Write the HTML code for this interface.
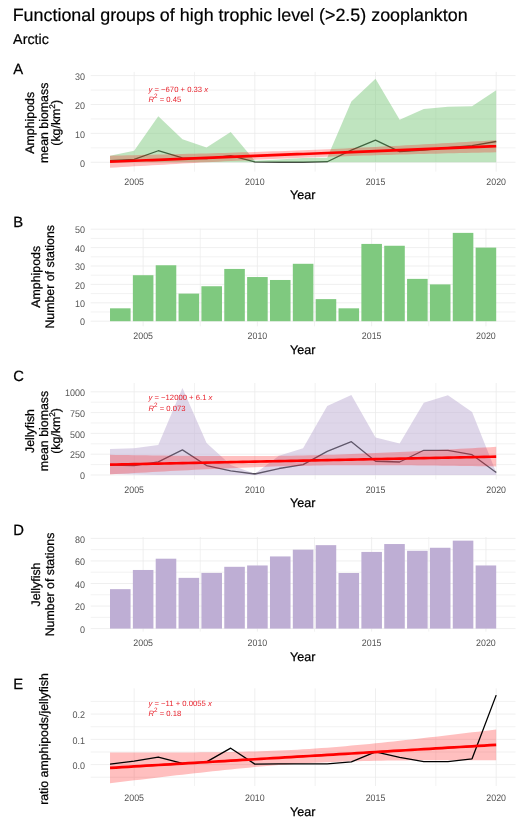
<!DOCTYPE html>
<html><head><meta charset="utf-8"><style>
html,body{margin:0;padding:0;background:#fff;}
svg{display:block;will-change:transform;text-rendering:geometricPrecision;font-family:"Liberation Sans", sans-serif;}
</style></head><body>
<svg width="529" height="831" viewBox="0 0 529 831">
<rect width="529" height="831" fill="#fff"/>
<text x="12.7" y="21.0" font-size="17.9" fill="#000" stroke="#000" stroke-width="0.2">Functional groups of high trophic level (&gt;2.5) zooplankton</text>
<text x="13.1" y="43.7" font-size="14.3" fill="#000" stroke="#000" stroke-width="0.2">Arctic</text>
<text x="13.2" y="73.8" font-size="14.8" fill="#000" stroke="#000" stroke-width="0.25">A</text>
<line x1="90.7" x2="515.5" y1="147.85" y2="147.85" stroke="#EDEDED" stroke-width="0.7"/>
<line x1="90.7" x2="515.5" y1="118.95" y2="118.95" stroke="#EDEDED" stroke-width="0.7"/>
<line x1="90.7" x2="515.5" y1="90.05" y2="90.05" stroke="#EDEDED" stroke-width="0.7"/>
<line x1="194.49" x2="194.49" y1="71.9" y2="171.6" stroke="#EDEDED" stroke-width="0.7"/>
<line x1="315.17" x2="315.17" y1="71.9" y2="171.6" stroke="#EDEDED" stroke-width="0.7"/>
<line x1="435.85" x2="435.85" y1="71.9" y2="171.6" stroke="#EDEDED" stroke-width="0.7"/>
<line x1="90.7" x2="515.5" y1="162.30" y2="162.30" stroke="#EBEBEB" stroke-width="0.8"/>
<line x1="90.7" x2="515.5" y1="133.40" y2="133.40" stroke="#EBEBEB" stroke-width="0.8"/>
<line x1="90.7" x2="515.5" y1="104.50" y2="104.50" stroke="#EBEBEB" stroke-width="0.8"/>
<line x1="90.7" x2="515.5" y1="75.60" y2="75.60" stroke="#EBEBEB" stroke-width="0.8"/>
<line x1="134.15" x2="134.15" y1="71.9" y2="171.6" stroke="#EBEBEB" stroke-width="0.8"/>
<line x1="254.83" x2="254.83" y1="71.9" y2="171.6" stroke="#EBEBEB" stroke-width="0.8"/>
<line x1="375.51" x2="375.51" y1="71.9" y2="171.6" stroke="#EBEBEB" stroke-width="0.8"/>
<line x1="496.19" x2="496.19" y1="71.9" y2="171.6" stroke="#EBEBEB" stroke-width="0.8"/>
<text transform="translate(85.0,166.50) scale(1,1.07)" text-anchor="end" font-size="9.0" fill="#555555">0</text>
<text transform="translate(85.0,137.60) scale(1,1.07)" text-anchor="end" font-size="9.0" fill="#555555">10</text>
<text transform="translate(85.0,108.70) scale(1,1.07)" text-anchor="end" font-size="9.0" fill="#555555">20</text>
<text transform="translate(85.0,79.80) scale(1,1.07)" text-anchor="end" font-size="9.0" fill="#555555">30</text>
<text transform="translate(134.15,184.90) scale(1,1.07)" text-anchor="middle" font-size="8.85" fill="#555555">2005</text>
<text transform="translate(254.83,184.90) scale(1,1.07)" text-anchor="middle" font-size="8.85" fill="#555555">2010</text>
<text transform="translate(375.51,184.90) scale(1,1.07)" text-anchor="middle" font-size="8.85" fill="#555555">2015</text>
<text transform="translate(496.19,184.90) scale(1,1.07)" text-anchor="middle" font-size="8.85" fill="#555555">2020</text>
<text transform="translate(33.80,122.80) rotate(-90)" x="0" y="0" text-anchor="middle" font-size="12.35" fill="#000" stroke="#000" stroke-width="0.25">Amphipods</text>
<text transform="translate(47.80,122.80) rotate(-90)" x="0" y="0" text-anchor="middle" font-size="12.35" fill="#000" stroke="#000" stroke-width="0.25">mean biomass</text>
<text transform="translate(60.00,122.80) rotate(-90)" x="0" y="0" text-anchor="middle" font-size="12.35" fill="#000" stroke="#000" stroke-width="0.25">(kg/km<tspan font-size="8.2" dy="-4.6">2</tspan><tspan dy="4.6">)</tspan></text>
<text x="302.7" y="199.3" text-anchor="middle" font-size="12.5" fill="#000" stroke="#000" stroke-width="0.25">Year</text>
<polyline points="110.01,160.57 134.15,159.41 158.28,150.74 182.42,157.97 206.55,158.54 230.69,155.65 254.83,161.87 278.96,162.16 303.10,162.16 327.24,161.72 351.37,150.16 375.51,140.05 399.65,151.61 423.78,150.16 447.92,147.56 472.05,145.54 496.19,141.49" fill="none" stroke="#000" stroke-width="1.3" stroke-opacity="1.0" stroke-linejoin="round" stroke-linecap="butt"/>
<polygon points="110.01,155.65 134.15,150.74 158.28,116.35 182.42,139.18 206.55,147.56 230.69,131.96 254.83,160.86 278.96,159.41 303.10,157.97 327.24,157.68 351.37,101.61 375.51,78.78 399.65,119.82 423.78,109.12 447.92,106.81 472.05,106.23 496.19,90.34 496.19,162.30 472.05,162.30 447.92,162.30 423.78,162.30 399.65,162.30 375.51,162.30 351.37,162.30 327.24,162.30 303.10,162.30 278.96,162.30 254.83,162.30 230.69,162.30 206.55,162.30 182.42,162.30 158.28,162.30 134.15,162.30 110.01,162.30" fill="#7FC97F" fill-opacity="0.5"/>
<polygon points="110.01,155.65 116.04,155.53 122.08,155.40 128.11,155.27 134.15,155.14 140.18,155.01 146.21,154.87 152.25,154.74 158.28,154.60 164.32,154.46 170.35,154.32 176.38,154.17 182.42,154.02 188.45,153.87 194.49,153.72 200.52,153.56 206.55,153.40 212.59,153.24 218.62,153.07 224.66,152.90 230.69,152.72 236.72,152.54 242.76,152.36 248.79,152.17 254.83,151.97 260.86,151.77 266.90,151.57 272.93,151.36 278.96,151.14 285.00,150.92 291.03,150.69 297.07,150.46 303.10,150.22 309.13,149.97 315.17,149.72 321.20,149.47 327.24,149.20 333.27,148.94 339.30,148.66 345.34,148.38 351.37,148.10 357.41,147.81 363.44,147.51 369.47,147.22 375.51,146.91 381.54,146.60 387.58,146.29 393.61,145.98 399.65,145.66 405.68,145.33 411.71,145.00 417.75,144.67 423.78,144.34 429.82,144.01 435.85,143.67 441.88,143.33 447.92,142.98 453.95,142.64 459.99,142.29 466.02,141.94 472.05,141.59 478.09,141.23 484.12,140.88 490.16,140.52 496.19,140.16 496.19,152.30 490.16,152.43 484.12,152.55 478.09,152.68 472.05,152.81 466.02,152.95 459.99,153.08 453.95,153.22 447.92,153.35 441.88,153.49 435.85,153.64 429.82,153.78 423.78,153.93 417.75,154.08 411.71,154.24 405.68,154.39 399.65,154.55 393.61,154.72 387.58,154.89 381.54,155.06 375.51,155.23 369.47,155.41 363.44,155.60 357.41,155.79 351.37,155.98 345.34,156.18 339.30,156.39 333.27,156.60 327.24,156.81 321.20,157.03 315.17,157.26 309.13,157.49 303.10,157.73 297.07,157.98 291.03,158.23 285.00,158.49 278.96,158.75 272.93,159.02 266.90,159.29 260.86,159.57 254.83,159.85 248.79,160.14 242.76,160.44 236.72,160.74 230.69,161.04 224.66,161.35 218.62,161.66 212.59,161.98 206.55,162.30 200.52,162.62 194.49,162.95 188.45,163.28 182.42,163.61 176.38,163.95 170.35,164.29 164.32,164.63 158.28,164.97 152.25,165.32 146.21,165.67 140.18,166.02 134.15,166.37 128.11,166.72 122.08,167.08 116.04,167.43 110.01,167.79" fill="#FF0000" fill-opacity="0.25"/>
<polyline points="110.01,161.72 116.04,161.48 122.08,161.24 128.11,161.00 134.15,160.75 140.18,160.51 146.21,160.27 152.25,160.03 158.28,159.79 164.32,159.54 170.35,159.30 176.38,159.06 182.42,158.82 188.45,158.58 194.49,158.33 200.52,158.09 206.55,157.85 212.59,157.61 218.62,157.37 224.66,157.12 230.69,156.88 236.72,156.64 242.76,156.40 248.79,156.16 254.83,155.91 260.86,155.67 266.90,155.43 272.93,155.19 278.96,154.94 285.00,154.70 291.03,154.46 297.07,154.22 303.10,153.98 309.13,153.73 315.17,153.49 321.20,153.25 327.24,153.01 333.27,152.77 339.30,152.52 345.34,152.28 351.37,152.04 357.41,151.80 363.44,151.56 369.47,151.31 375.51,151.07 381.54,150.83 387.58,150.59 393.61,150.35 399.65,150.10 405.68,149.86 411.71,149.62 417.75,149.38 423.78,149.14 429.82,148.89 435.85,148.65 441.88,148.41 447.92,148.17 453.95,147.93 459.99,147.68 466.02,147.44 472.05,147.20 478.09,146.96 484.12,146.72 490.16,146.47 496.19,146.23" fill="none" stroke="#FF0000" stroke-width="2.7" stroke-opacity="1.0" stroke-linejoin="round" stroke-linecap="butt"/>
<text x="148.5" y="92.0" font-size="7.7" fill="#E8212B"><tspan font-style="italic">y</tspan> = −670 + 0.33 <tspan font-style="italic">x</tspan></text>
<text x="148.5" y="102.2" font-size="7.7" fill="#E8212B"><tspan font-style="italic">R</tspan><tspan font-size="6.3" dy="-3.9">2</tspan><tspan dy="3.9"> = 0.45</tspan></text>
<text x="13.2" y="227.0" font-size="14.8" fill="#000" stroke="#000" stroke-width="0.25">B</text>
<line x1="90.7" x2="515.5" y1="312.00" y2="312.00" stroke="#EDEDED" stroke-width="0.7"/>
<line x1="90.7" x2="515.5" y1="293.60" y2="293.60" stroke="#EDEDED" stroke-width="0.7"/>
<line x1="90.7" x2="515.5" y1="275.20" y2="275.20" stroke="#EDEDED" stroke-width="0.7"/>
<line x1="90.7" x2="515.5" y1="256.80" y2="256.80" stroke="#EDEDED" stroke-width="0.7"/>
<line x1="90.7" x2="515.5" y1="238.40" y2="238.40" stroke="#EDEDED" stroke-width="0.7"/>
<line x1="200.27" x2="200.27" y1="228.8" y2="326.3" stroke="#EDEDED" stroke-width="0.7"/>
<line x1="314.53" x2="314.53" y1="228.8" y2="326.3" stroke="#EDEDED" stroke-width="0.7"/>
<line x1="428.78" x2="428.78" y1="228.8" y2="326.3" stroke="#EDEDED" stroke-width="0.7"/>
<line x1="90.7" x2="515.5" y1="321.20" y2="321.20" stroke="#EBEBEB" stroke-width="0.8"/>
<line x1="90.7" x2="515.5" y1="302.80" y2="302.80" stroke="#EBEBEB" stroke-width="0.8"/>
<line x1="90.7" x2="515.5" y1="284.40" y2="284.40" stroke="#EBEBEB" stroke-width="0.8"/>
<line x1="90.7" x2="515.5" y1="266.00" y2="266.00" stroke="#EBEBEB" stroke-width="0.8"/>
<line x1="90.7" x2="515.5" y1="247.60" y2="247.60" stroke="#EBEBEB" stroke-width="0.8"/>
<line x1="90.7" x2="515.5" y1="229.20" y2="229.20" stroke="#EBEBEB" stroke-width="0.8"/>
<line x1="143.14" x2="143.14" y1="228.8" y2="326.3" stroke="#EBEBEB" stroke-width="0.8"/>
<line x1="257.40" x2="257.40" y1="228.8" y2="326.3" stroke="#EBEBEB" stroke-width="0.8"/>
<line x1="371.65" x2="371.65" y1="228.8" y2="326.3" stroke="#EBEBEB" stroke-width="0.8"/>
<line x1="485.91" x2="485.91" y1="228.8" y2="326.3" stroke="#EBEBEB" stroke-width="0.8"/>
<text transform="translate(85.0,325.40) scale(1,1.07)" text-anchor="end" font-size="9.0" fill="#555555">0</text>
<text transform="translate(85.0,307.00) scale(1,1.07)" text-anchor="end" font-size="9.0" fill="#555555">10</text>
<text transform="translate(85.0,288.60) scale(1,1.07)" text-anchor="end" font-size="9.0" fill="#555555">20</text>
<text transform="translate(85.0,270.20) scale(1,1.07)" text-anchor="end" font-size="9.0" fill="#555555">30</text>
<text transform="translate(85.0,251.80) scale(1,1.07)" text-anchor="end" font-size="9.0" fill="#555555">40</text>
<text transform="translate(85.0,233.40) scale(1,1.07)" text-anchor="end" font-size="9.0" fill="#555555">50</text>
<text transform="translate(143.14,339.30) scale(1,1.07)" text-anchor="middle" font-size="8.85" fill="#555555">2005</text>
<text transform="translate(257.40,339.30) scale(1,1.07)" text-anchor="middle" font-size="8.85" fill="#555555">2010</text>
<text transform="translate(371.65,339.30) scale(1,1.07)" text-anchor="middle" font-size="8.85" fill="#555555">2015</text>
<text transform="translate(485.91,339.30) scale(1,1.07)" text-anchor="middle" font-size="8.85" fill="#555555">2020</text>
<text transform="translate(39.70,276.80) rotate(-90)" x="0" y="0" text-anchor="middle" font-size="12.35" fill="#000" stroke="#000" stroke-width="0.25">Amphipods</text>
<text transform="translate(54.40,276.80) rotate(-90)" x="0" y="0" text-anchor="middle" font-size="12.35" fill="#000" stroke="#000" stroke-width="0.25">Number of stations</text>
<text x="302.7" y="354.4" text-anchor="middle" font-size="12.5" fill="#000" stroke="#000" stroke-width="0.25">Year</text>
<rect x="110.01" y="308.32" width="20.57" height="12.88" fill="#7FC97F"/>
<rect x="132.86" y="275.20" width="20.57" height="46.00" fill="#7FC97F"/>
<rect x="155.71" y="265.26" width="20.57" height="55.94" fill="#7FC97F"/>
<rect x="178.56" y="293.60" width="20.57" height="27.60" fill="#7FC97F"/>
<rect x="201.41" y="286.24" width="20.57" height="34.96" fill="#7FC97F"/>
<rect x="224.26" y="268.94" width="20.57" height="52.26" fill="#7FC97F"/>
<rect x="247.12" y="277.04" width="20.57" height="44.16" fill="#7FC97F"/>
<rect x="269.97" y="279.98" width="20.57" height="41.22" fill="#7FC97F"/>
<rect x="292.82" y="263.79" width="20.57" height="57.41" fill="#7FC97F"/>
<rect x="315.67" y="299.12" width="20.57" height="22.08" fill="#7FC97F"/>
<rect x="338.52" y="308.32" width="20.57" height="12.88" fill="#7FC97F"/>
<rect x="361.37" y="243.92" width="20.57" height="77.28" fill="#7FC97F"/>
<rect x="384.22" y="245.76" width="20.57" height="75.44" fill="#7FC97F"/>
<rect x="407.07" y="278.88" width="20.57" height="42.32" fill="#7FC97F"/>
<rect x="429.92" y="284.40" width="20.57" height="36.80" fill="#7FC97F"/>
<rect x="452.77" y="232.88" width="20.57" height="88.32" fill="#7FC97F"/>
<rect x="475.63" y="247.60" width="20.57" height="73.60" fill="#7FC97F"/>
<text x="13.2" y="380.9" font-size="14.8" fill="#000" stroke="#000" stroke-width="0.25">C</text>
<line x1="90.7" x2="515.5" y1="464.60" y2="464.60" stroke="#EDEDED" stroke-width="0.7"/>
<line x1="90.7" x2="515.5" y1="443.80" y2="443.80" stroke="#EDEDED" stroke-width="0.7"/>
<line x1="90.7" x2="515.5" y1="423.00" y2="423.00" stroke="#EDEDED" stroke-width="0.7"/>
<line x1="90.7" x2="515.5" y1="402.20" y2="402.20" stroke="#EDEDED" stroke-width="0.7"/>
<line x1="194.49" x2="194.49" y1="383.0" y2="479.4" stroke="#EDEDED" stroke-width="0.7"/>
<line x1="315.17" x2="315.17" y1="383.0" y2="479.4" stroke="#EDEDED" stroke-width="0.7"/>
<line x1="435.85" x2="435.85" y1="383.0" y2="479.4" stroke="#EDEDED" stroke-width="0.7"/>
<line x1="90.7" x2="515.5" y1="475.00" y2="475.00" stroke="#EBEBEB" stroke-width="0.8"/>
<line x1="90.7" x2="515.5" y1="454.20" y2="454.20" stroke="#EBEBEB" stroke-width="0.8"/>
<line x1="90.7" x2="515.5" y1="433.40" y2="433.40" stroke="#EBEBEB" stroke-width="0.8"/>
<line x1="90.7" x2="515.5" y1="412.60" y2="412.60" stroke="#EBEBEB" stroke-width="0.8"/>
<line x1="90.7" x2="515.5" y1="391.80" y2="391.80" stroke="#EBEBEB" stroke-width="0.8"/>
<line x1="134.15" x2="134.15" y1="383.0" y2="479.4" stroke="#EBEBEB" stroke-width="0.8"/>
<line x1="254.83" x2="254.83" y1="383.0" y2="479.4" stroke="#EBEBEB" stroke-width="0.8"/>
<line x1="375.51" x2="375.51" y1="383.0" y2="479.4" stroke="#EBEBEB" stroke-width="0.8"/>
<line x1="496.19" x2="496.19" y1="383.0" y2="479.4" stroke="#EBEBEB" stroke-width="0.8"/>
<text transform="translate(85.0,479.20) scale(1,1.07)" text-anchor="end" font-size="9.0" fill="#555555">0</text>
<text transform="translate(85.0,458.40) scale(1,1.07)" text-anchor="end" font-size="9.0" fill="#555555">250</text>
<text transform="translate(85.0,437.60) scale(1,1.07)" text-anchor="end" font-size="9.0" fill="#555555">500</text>
<text transform="translate(85.0,416.80) scale(1,1.07)" text-anchor="end" font-size="9.0" fill="#555555">750</text>
<text transform="translate(85.0,396.00) scale(1,1.07)" text-anchor="end" font-size="9.0" fill="#555555">1000</text>
<text transform="translate(134.15,493.40) scale(1,1.07)" text-anchor="middle" font-size="8.85" fill="#555555">2005</text>
<text transform="translate(254.83,493.40) scale(1,1.07)" text-anchor="middle" font-size="8.85" fill="#555555">2010</text>
<text transform="translate(375.51,493.40) scale(1,1.07)" text-anchor="middle" font-size="8.85" fill="#555555">2015</text>
<text transform="translate(496.19,493.40) scale(1,1.07)" text-anchor="middle" font-size="8.85" fill="#555555">2020</text>
<text transform="translate(33.80,431.00) rotate(-90)" x="0" y="0" text-anchor="middle" font-size="12.35" fill="#000" stroke="#000" stroke-width="0.25">Jellyfish</text>
<text transform="translate(48.00,431.00) rotate(-90)" x="0" y="0" text-anchor="middle" font-size="12.35" fill="#000" stroke="#000" stroke-width="0.25">mean biomass</text>
<text transform="translate(60.00,431.00) rotate(-90)" x="0" y="0" text-anchor="middle" font-size="12.35" fill="#000" stroke="#000" stroke-width="0.25">(kg/km<tspan font-size="8.2" dy="-4.6">2</tspan><tspan dy="4.6">)</tspan></text>
<text x="302.7" y="507.3" text-anchor="middle" font-size="12.5" fill="#000" stroke="#000" stroke-width="0.25">Year</text>
<polyline points="110.01,465.02 134.15,465.60 158.28,461.94 182.42,449.87 206.55,465.52 230.69,470.92 254.83,474.00 278.96,468.51 303.10,464.60 327.24,451.37 351.37,441.72 375.51,461.27 399.65,462.02 423.78,450.29 447.92,450.29 472.05,454.70 496.19,472.42" fill="none" stroke="#000" stroke-width="1.3" stroke-opacity="1.0" stroke-linejoin="round" stroke-linecap="butt"/>
<polygon points="110.01,448.88 134.15,448.29 158.28,445.05 182.42,388.06 206.55,442.97 230.69,465.02 254.83,473.75 278.96,455.86 303.10,448.29 327.24,406.03 351.37,394.88 375.51,437.39 399.65,443.38 423.78,402.78 447.92,395.29 472.05,411.93 496.19,472.50 496.19,475.00 472.05,475.00 447.92,475.00 423.78,475.00 399.65,475.00 375.51,475.00 351.37,475.00 327.24,475.00 303.10,475.00 278.96,475.00 254.83,475.00 230.69,475.00 206.55,475.00 182.42,475.00 158.28,475.00 134.15,474.58 110.01,474.00" fill="#BEAED4" fill-opacity="0.5"/>
<polygon points="110.01,454.78 116.04,454.88 122.08,454.97 128.11,455.07 134.15,455.15 140.18,455.24 146.21,455.33 152.25,455.41 158.28,455.49 164.32,455.56 170.35,455.63 176.38,455.70 182.42,455.76 188.45,455.82 194.49,455.88 200.52,455.92 206.55,455.97 212.59,456.00 218.62,456.03 224.66,456.05 230.69,456.07 236.72,456.08 242.76,456.07 248.79,456.06 254.83,456.04 260.86,456.01 266.90,455.96 272.93,455.91 278.96,455.84 285.00,455.76 291.03,455.67 297.07,455.57 303.10,455.45 309.13,455.32 315.17,455.17 321.20,455.01 327.24,454.84 333.27,454.66 339.30,454.47 345.34,454.26 351.37,454.04 357.41,453.81 363.44,453.58 369.47,453.33 375.51,453.07 381.54,452.81 387.58,452.54 393.61,452.26 399.65,451.97 405.68,451.68 411.71,451.38 417.75,451.08 423.78,450.77 429.82,450.46 435.85,450.14 441.88,449.82 447.92,449.50 453.95,449.17 459.99,448.84 466.02,448.50 472.05,448.17 478.09,447.83 484.12,447.48 490.16,447.14 496.19,446.80 496.19,466.43 490.16,466.33 484.12,466.24 478.09,466.15 472.05,466.06 466.02,465.97 459.99,465.89 453.95,465.80 447.92,465.73 441.88,465.65 435.85,465.58 429.82,465.51 423.78,465.45 417.75,465.39 411.71,465.34 405.68,465.29 399.65,465.25 393.61,465.21 387.58,465.18 381.54,465.16 375.51,465.14 369.47,465.14 363.44,465.14 357.41,465.15 351.37,465.17 345.34,465.21 339.30,465.25 333.27,465.30 327.24,465.37 321.20,465.45 315.17,465.54 309.13,465.65 303.10,465.76 297.07,465.90 291.03,466.04 285.00,466.20 278.96,466.37 272.93,466.55 266.90,466.75 260.86,466.95 254.83,467.17 248.79,467.40 242.76,467.64 236.72,467.88 230.69,468.14 224.66,468.40 218.62,468.68 212.59,468.95 206.55,469.24 200.52,469.53 194.49,469.83 188.45,470.13 182.42,470.44 176.38,470.75 170.35,471.07 164.32,471.39 158.28,471.72 152.25,472.04 146.21,472.38 140.18,472.71 134.15,473.05 128.11,473.39 122.08,473.73 116.04,474.07 110.01,474.42" fill="#FF0000" fill-opacity="0.25"/>
<polyline points="110.01,464.60 116.04,464.48 122.08,464.35 128.11,464.23 134.15,464.10 140.18,463.98 146.21,463.85 152.25,463.73 158.28,463.60 164.32,463.48 170.35,463.35 176.38,463.23 182.42,463.10 188.45,462.98 194.49,462.85 200.52,462.73 206.55,462.60 212.59,462.48 218.62,462.35 224.66,462.23 230.69,462.10 236.72,461.98 242.76,461.85 248.79,461.73 254.83,461.60 260.86,461.48 266.90,461.36 272.93,461.23 278.96,461.11 285.00,460.98 291.03,460.86 297.07,460.73 303.10,460.61 309.13,460.48 315.17,460.36 321.20,460.23 327.24,460.11 333.27,459.98 339.30,459.86 345.34,459.73 351.37,459.61 357.41,459.48 363.44,459.36 369.47,459.23 375.51,459.11 381.54,458.98 387.58,458.86 393.61,458.73 399.65,458.61 405.68,458.48 411.71,458.36 417.75,458.24 423.78,458.11 429.82,457.99 435.85,457.86 441.88,457.74 447.92,457.61 453.95,457.49 459.99,457.36 466.02,457.24 472.05,457.11 478.09,456.99 484.12,456.86 490.16,456.74 496.19,456.61" fill="none" stroke="#FF0000" stroke-width="2.7" stroke-opacity="1.0" stroke-linejoin="round" stroke-linecap="butt"/>
<text x="148.5" y="399.9" font-size="7.7" fill="#E8212B"><tspan font-style="italic">y</tspan> = −12000 + 6.1 <tspan font-style="italic">x</tspan></text>
<text x="148.5" y="410.6" font-size="7.7" fill="#E8212B"><tspan font-style="italic">R</tspan><tspan font-size="6.3" dy="-3.9">2</tspan><tspan dy="3.9"> = 0.073</tspan></text>
<text x="13.2" y="535.2" font-size="14.8" fill="#000" stroke="#000" stroke-width="0.25">D</text>
<line x1="90.7" x2="515.5" y1="617.33" y2="617.33" stroke="#EDEDED" stroke-width="0.7"/>
<line x1="90.7" x2="515.5" y1="594.77" y2="594.77" stroke="#EDEDED" stroke-width="0.7"/>
<line x1="90.7" x2="515.5" y1="572.23" y2="572.23" stroke="#EDEDED" stroke-width="0.7"/>
<line x1="90.7" x2="515.5" y1="549.68" y2="549.68" stroke="#EDEDED" stroke-width="0.7"/>
<line x1="200.27" x2="200.27" y1="537.0" y2="631.6" stroke="#EDEDED" stroke-width="0.7"/>
<line x1="314.53" x2="314.53" y1="537.0" y2="631.6" stroke="#EDEDED" stroke-width="0.7"/>
<line x1="428.78" x2="428.78" y1="537.0" y2="631.6" stroke="#EDEDED" stroke-width="0.7"/>
<line x1="90.7" x2="515.5" y1="628.60" y2="628.60" stroke="#EBEBEB" stroke-width="0.8"/>
<line x1="90.7" x2="515.5" y1="606.05" y2="606.05" stroke="#EBEBEB" stroke-width="0.8"/>
<line x1="90.7" x2="515.5" y1="583.50" y2="583.50" stroke="#EBEBEB" stroke-width="0.8"/>
<line x1="90.7" x2="515.5" y1="560.95" y2="560.95" stroke="#EBEBEB" stroke-width="0.8"/>
<line x1="90.7" x2="515.5" y1="538.40" y2="538.40" stroke="#EBEBEB" stroke-width="0.8"/>
<line x1="143.14" x2="143.14" y1="537.0" y2="631.6" stroke="#EBEBEB" stroke-width="0.8"/>
<line x1="257.40" x2="257.40" y1="537.0" y2="631.6" stroke="#EBEBEB" stroke-width="0.8"/>
<line x1="371.65" x2="371.65" y1="537.0" y2="631.6" stroke="#EBEBEB" stroke-width="0.8"/>
<line x1="485.91" x2="485.91" y1="537.0" y2="631.6" stroke="#EBEBEB" stroke-width="0.8"/>
<text transform="translate(85.0,632.80) scale(1,1.07)" text-anchor="end" font-size="9.0" fill="#555555">0</text>
<text transform="translate(85.0,610.25) scale(1,1.07)" text-anchor="end" font-size="9.0" fill="#555555">20</text>
<text transform="translate(85.0,587.70) scale(1,1.07)" text-anchor="end" font-size="9.0" fill="#555555">40</text>
<text transform="translate(85.0,565.15) scale(1,1.07)" text-anchor="end" font-size="9.0" fill="#555555">60</text>
<text transform="translate(85.0,542.60) scale(1,1.07)" text-anchor="end" font-size="9.0" fill="#555555">80</text>
<text transform="translate(143.14,646.10) scale(1,1.07)" text-anchor="middle" font-size="8.85" fill="#555555">2005</text>
<text transform="translate(257.40,646.10) scale(1,1.07)" text-anchor="middle" font-size="8.85" fill="#555555">2010</text>
<text transform="translate(371.65,646.10) scale(1,1.07)" text-anchor="middle" font-size="8.85" fill="#555555">2015</text>
<text transform="translate(485.91,646.10) scale(1,1.07)" text-anchor="middle" font-size="8.85" fill="#555555">2020</text>
<text transform="translate(39.70,584.50) rotate(-90)" x="0" y="0" text-anchor="middle" font-size="12.35" fill="#000" stroke="#000" stroke-width="0.25">Jellyfish</text>
<text transform="translate(54.40,584.50) rotate(-90)" x="0" y="0" text-anchor="middle" font-size="12.35" fill="#000" stroke="#000" stroke-width="0.25">Number of stations</text>
<text x="302.7" y="661.1" text-anchor="middle" font-size="12.5" fill="#000" stroke="#000" stroke-width="0.25">Year</text>
<rect x="110.01" y="589.14" width="20.57" height="39.46" fill="#BEAED4"/>
<rect x="132.86" y="569.97" width="20.57" height="58.63" fill="#BEAED4"/>
<rect x="155.71" y="558.70" width="20.57" height="69.90" fill="#BEAED4"/>
<rect x="178.56" y="577.86" width="20.57" height="50.74" fill="#BEAED4"/>
<rect x="201.41" y="572.90" width="20.57" height="55.70" fill="#BEAED4"/>
<rect x="224.26" y="566.81" width="20.57" height="61.79" fill="#BEAED4"/>
<rect x="247.12" y="565.46" width="20.57" height="63.14" fill="#BEAED4"/>
<rect x="269.97" y="556.44" width="20.57" height="72.16" fill="#BEAED4"/>
<rect x="292.82" y="549.68" width="20.57" height="78.92" fill="#BEAED4"/>
<rect x="315.67" y="545.16" width="20.57" height="83.44" fill="#BEAED4"/>
<rect x="338.52" y="573.01" width="20.57" height="55.59" fill="#BEAED4"/>
<rect x="361.37" y="551.93" width="20.57" height="76.67" fill="#BEAED4"/>
<rect x="384.22" y="544.04" width="20.57" height="84.56" fill="#BEAED4"/>
<rect x="407.07" y="550.80" width="20.57" height="77.80" fill="#BEAED4"/>
<rect x="429.92" y="547.76" width="20.57" height="80.84" fill="#BEAED4"/>
<rect x="452.77" y="540.65" width="20.57" height="87.95" fill="#BEAED4"/>
<rect x="475.63" y="565.46" width="20.57" height="63.14" fill="#BEAED4"/>
<text x="13.2" y="688.9" font-size="14.8" fill="#000" stroke="#000" stroke-width="0.25">E</text>
<line x1="90.7" x2="515.5" y1="777.24" y2="777.24" stroke="#EDEDED" stroke-width="0.7"/>
<line x1="90.7" x2="515.5" y1="751.97" y2="751.97" stroke="#EDEDED" stroke-width="0.7"/>
<line x1="90.7" x2="515.5" y1="726.70" y2="726.70" stroke="#EDEDED" stroke-width="0.7"/>
<line x1="90.7" x2="515.5" y1="701.43" y2="701.43" stroke="#EDEDED" stroke-width="0.7"/>
<line x1="194.49" x2="194.49" y1="688.4" y2="786.0" stroke="#EDEDED" stroke-width="0.7"/>
<line x1="315.17" x2="315.17" y1="688.4" y2="786.0" stroke="#EDEDED" stroke-width="0.7"/>
<line x1="435.85" x2="435.85" y1="688.4" y2="786.0" stroke="#EDEDED" stroke-width="0.7"/>
<line x1="90.7" x2="515.5" y1="764.60" y2="764.60" stroke="#EBEBEB" stroke-width="0.8"/>
<line x1="90.7" x2="515.5" y1="739.33" y2="739.33" stroke="#EBEBEB" stroke-width="0.8"/>
<line x1="90.7" x2="515.5" y1="714.06" y2="714.06" stroke="#EBEBEB" stroke-width="0.8"/>
<line x1="134.15" x2="134.15" y1="688.4" y2="786.0" stroke="#EBEBEB" stroke-width="0.8"/>
<line x1="254.83" x2="254.83" y1="688.4" y2="786.0" stroke="#EBEBEB" stroke-width="0.8"/>
<line x1="375.51" x2="375.51" y1="688.4" y2="786.0" stroke="#EBEBEB" stroke-width="0.8"/>
<line x1="496.19" x2="496.19" y1="688.4" y2="786.0" stroke="#EBEBEB" stroke-width="0.8"/>
<text transform="translate(85.0,768.80) scale(1,1.07)" text-anchor="end" font-size="9.0" fill="#555555">0.0</text>
<text transform="translate(85.0,743.53) scale(1,1.07)" text-anchor="end" font-size="9.0" fill="#555555">0.1</text>
<text transform="translate(85.0,718.26) scale(1,1.07)" text-anchor="end" font-size="9.0" fill="#555555">0.2</text>
<text transform="translate(134.15,800.60) scale(1,1.07)" text-anchor="middle" font-size="8.85" fill="#555555">2005</text>
<text transform="translate(254.83,800.60) scale(1,1.07)" text-anchor="middle" font-size="8.85" fill="#555555">2010</text>
<text transform="translate(375.51,800.60) scale(1,1.07)" text-anchor="middle" font-size="8.85" fill="#555555">2015</text>
<text transform="translate(496.19,800.60) scale(1,1.07)" text-anchor="middle" font-size="8.85" fill="#555555">2020</text>
<text transform="translate(48.30,739.00) rotate(-90)" x="0" y="0" text-anchor="middle" font-size="12.35" fill="#000" stroke="#000" stroke-width="0.25">ratio amphipods/jellyfish</text>
<text x="302.7" y="815.6" text-anchor="middle" font-size="12.5" fill="#000" stroke="#000" stroke-width="0.25">Year</text>
<polygon points="110.01,752.47 116.04,752.49 122.08,752.51 128.11,752.52 134.15,752.53 140.18,752.54 146.21,752.54 152.25,752.54 158.28,752.53 164.32,752.52 170.35,752.51 176.38,752.49 182.42,752.46 188.45,752.43 194.49,752.38 200.52,752.33 206.55,752.28 212.59,752.21 218.62,752.13 224.66,752.04 230.69,751.94 236.72,751.82 242.76,751.69 248.79,751.55 254.83,751.38 260.86,751.20 266.90,751.00 272.93,750.77 278.96,750.52 285.00,750.25 291.03,749.95 297.07,749.63 303.10,749.29 309.13,748.91 315.17,748.51 321.20,748.09 327.24,747.64 333.27,747.17 339.30,746.67 345.34,746.16 351.37,745.62 357.41,745.07 363.44,744.49 369.47,743.90 375.51,743.30 381.54,742.68 387.58,742.05 393.61,741.41 399.65,740.75 405.68,740.09 411.71,739.42 417.75,738.74 423.78,738.05 429.82,737.36 435.85,736.66 441.88,735.96 447.92,735.25 453.95,734.53 459.99,733.81 466.02,733.09 472.05,732.36 478.09,731.63 484.12,730.90 490.16,730.16 496.19,729.42 496.19,760.25 490.16,760.23 484.12,760.22 478.09,760.21 472.05,760.20 466.02,760.19 459.99,760.19 453.95,760.19 447.92,760.19 441.88,760.20 435.85,760.22 429.82,760.24 423.78,760.27 417.75,760.30 411.71,760.34 405.68,760.39 399.65,760.45 393.61,760.51 387.58,760.59 381.54,760.68 375.51,760.78 369.47,760.90 363.44,761.03 357.41,761.18 351.37,761.34 345.34,761.52 339.30,761.73 333.27,761.95 327.24,762.20 321.20,762.47 315.17,762.77 309.13,763.09 303.10,763.44 297.07,763.81 291.03,764.21 285.00,764.63 278.96,765.08 272.93,765.55 266.90,766.05 260.86,766.57 254.83,767.10 248.79,767.66 242.76,768.23 236.72,768.82 230.69,769.43 224.66,770.04 218.62,770.67 212.59,771.32 206.55,771.97 200.52,772.63 194.49,773.30 188.45,773.98 182.42,774.67 176.38,775.36 170.35,776.06 164.32,776.77 158.28,777.48 152.25,778.19 146.21,778.91 140.18,779.63 134.15,780.36 128.11,781.09 122.08,781.82 116.04,782.56 110.01,783.30" fill="#FF0000" fill-opacity="0.25"/>
<polyline points="110.01,764.09 134.15,761.06 158.28,757.02 182.42,763.34 206.55,761.82 230.69,748.17 254.83,764.09 278.96,763.84 303.10,763.84 327.24,763.84 351.37,761.82 375.51,751.97 399.65,757.27 423.78,761.57 447.92,761.57 472.05,758.79 496.19,695.11" fill="none" stroke="#000" stroke-width="1.3" stroke-opacity="1.0" stroke-linejoin="round" stroke-linecap="butt"/>
<polyline points="110.01,767.89 116.04,767.53 122.08,767.16 128.11,766.80 134.15,766.44 140.18,766.08 146.21,765.72 152.25,765.36 158.28,765.00 164.32,764.64 170.35,764.28 176.38,763.92 182.42,763.56 188.45,763.20 194.49,762.84 200.52,762.48 206.55,762.12 212.59,761.76 218.62,761.40 224.66,761.04 230.69,760.68 236.72,760.32 242.76,759.96 248.79,759.60 254.83,759.24 260.86,758.88 266.90,758.52 272.93,758.16 278.96,757.80 285.00,757.44 291.03,757.08 297.07,756.72 303.10,756.36 309.13,756.00 315.17,755.64 321.20,755.28 327.24,754.92 333.27,754.56 339.30,754.20 345.34,753.84 351.37,753.48 357.41,753.12 363.44,752.76 369.47,752.40 375.51,752.04 381.54,751.68 387.58,751.32 393.61,750.96 399.65,750.60 405.68,750.24 411.71,749.88 417.75,749.52 423.78,749.16 429.82,748.80 435.85,748.44 441.88,748.08 447.92,747.72 453.95,747.36 459.99,747.00 466.02,746.64 472.05,746.28 478.09,745.92 484.12,745.56 490.16,745.20 496.19,744.84" fill="none" stroke="#FF0000" stroke-width="2.7" stroke-opacity="1.0" stroke-linejoin="round" stroke-linecap="butt"/>
<text x="148.5" y="705.8" font-size="7.7" fill="#E8212B"><tspan font-style="italic">y</tspan> = −11 + 0.0055 <tspan font-style="italic">x</tspan></text>
<text x="148.5" y="716.1" font-size="7.7" fill="#E8212B"><tspan font-style="italic">R</tspan><tspan font-size="6.3" dy="-3.9">2</tspan><tspan dy="3.9"> = 0.18</tspan></text>
</svg></body></html>
